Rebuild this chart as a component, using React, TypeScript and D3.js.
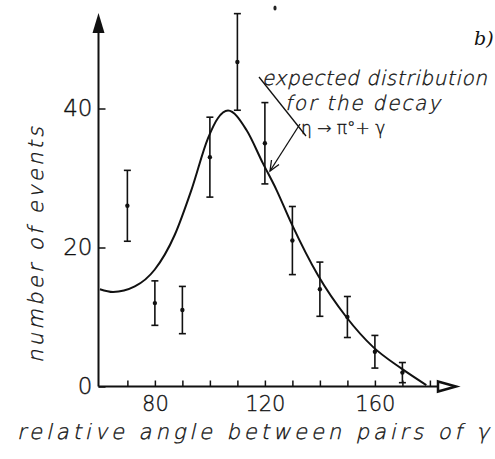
import React, { useRef, useEffect } from 'react';
import * as d3 from 'd3';

// measured points (angle in degrees, number of events, half length of error bar)
const angles = [70, 80, 90, 100, 110, 120, 130, 140, 150, 160, 170];
const events = [26, 12, 11, 33, 46.7, 35, 21, 14, 10, 5, 2];
const errors = [5.1, 3.2, 3.4, 5.75, 6.95, 5.85, 4.9, 3.9, 2.95, 2.35, 1.45];

// expected distribution for eta -> pi0 + gamma
const curveAngles = [60, 64.8, 72.7, 79.9, 87.2, 93.3, 99.3, 102.9, 106.6, 113.3, 119.3, 124.2, 129.6, 139.3, 149.6, 159.3, 169.6, 178.7];
const curveValues = [14.0, 13.6, 14.4, 16.8, 21.8, 28.3, 35.7, 38.6, 39.7, 36.9, 32.1, 28.3, 23.5, 16.0, 10.0, 5.7, 2.6, 0.2];

const xTicks = [70, 80, 90, 100, 110, 120, 130, 140, 150, 160, 170, 180];
const xLabels = [80, 120, 160];
const yTicks = [0, 20, 40];

const FONT = '"DejaVu Sans", sans-serif';
const INK = '#111';

const App = () => {
  const svgRef = useRef<SVGSVGElement>(null);
  const width = 495;
  const height = 459;

  useEffect(() => {
    const svg = d3.select(svgRef.current);
    svg.selectAll('*').remove();

    const x = d3.scaleLinear().domain([59.5, 190]).range([98.5, 457.4]);
    const y = d3.scaleLinear().domain([0, 54]).range([386.5, 11.2]);
    const x0 = x(59.5);
    const y0 = y(0);

    // thin lettering, slanted by hand so the light face is kept
    const slanted = (transform: string, size: number, txt: string, len?: number) => {
      const t = svg.append('text')
        .attr('transform', `${transform} skewX(-13)`)
        .style('font-family', FONT).style('font-size', `${size}px`).style('font-weight', 200)
        .attr('fill', INK).attr('stroke', INK).attr('stroke-width', 0.35)
        .text(txt);
      if (len) t.attr('textLength', len).attr('lengthAdjust', 'spacing');
      return t;
    };

    // y axis with filled arrow
    svg.append('line')
      .attr('x1', x0).attr('x2', x0)
      .attr('y1', y0).attr('y2', 28)
      .attr('stroke', INK).attr('stroke-width', 2);
    svg.append('path')
      .attr('d', `M${x0},13 L${x0 - 6},33 L${x0 + 6},33 Z`)
      .attr('fill', INK);

    // x axis with open arrow
    svg.append('line')
      .attr('x1', x0).attr('x2', 438)
      .attr('y1', y0).attr('y2', y0)
      .attr('stroke', INK).attr('stroke-width', 2);
    svg.append('path')
      .attr('d', `M438,${y0 - 5} L456,${y0} L438,${y0 + 5} Z`)
      .attr('fill', '#fff').attr('stroke', INK).attr('stroke-width', 2.5)
      .attr('stroke-linejoin', 'miter');

    const yAxis = d3.axisLeft(y).tickValues(yTicks).tickSizeInner(-7).tickSizeOuter(0).tickPadding(6);
    const yg = svg.append('g').attr('transform', `translate(${x0},0)`).call(yAxis);
    yg.select('.domain').remove();
    yg.selectAll('line').attr('stroke', INK).attr('stroke-width', 1.5);
    yg.selectAll('text')
      .attr('fill', INK).attr('stroke', INK).attr('stroke-width', 0.35)
      .style('font-family', FONT)
      .style('font-size', '23px')
      .style('font-weight', 200);

    const xAxis = d3.axisBottom(x).tickValues(xTicks).tickSizeInner(-6).tickSizeOuter(0).tickPadding(10)
      .tickFormat((d) => (xLabels.includes(d as number) ? String(d) : ''));
    const xg = svg.append('g').attr('transform', `translate(0,${y0})`).call(xAxis);
    xg.select('.domain').remove();
    xg.selectAll('line').attr('stroke', INK).attr('stroke-width', 1.5);
    xg.selectAll('text')
      .attr('fill', INK).attr('stroke', INK).attr('stroke-width', 0.35)
      .style('font-family', FONT)
      .style('font-size', '21px')
      .style('font-weight', 200);

    // expected curve
    const line = d3.line<number>()
      .x((d, i) => x(curveAngles[i]))
      .y((d) => y(d))
      .curve(d3.curveMonotoneX);
    svg.append('path')
      .attr('d', line(curveValues))
      .attr('fill', 'none')
      .attr('stroke', INK)
      .attr('stroke-width', 2);

    // error bars
    const pts = angles.map((a, i) => ({ a, v: events[i], e: errors[i] }));
    const eb = svg.append('g').attr('stroke', INK).attr('stroke-width', 1.6);
    pts.forEach((p) => {
      const cx = x(p.a);
      eb.append('line').attr('x1', cx).attr('x2', cx).attr('y1', y(p.v + p.e)).attr('y2', y(p.v - p.e));
      eb.append('line').attr('x1', cx - 3.5).attr('x2', cx + 3.5).attr('y1', y(p.v + p.e)).attr('y2', y(p.v + p.e));
      eb.append('line').attr('x1', cx - 3.5).attr('x2', cx + 3.5).attr('y1', y(p.v - p.e)).attr('y2', y(p.v - p.e));
    });
    svg.append('g')
      .selectAll('circle')
      .data(pts)
      .join('circle')
      .attr('cx', (d) => x(d.a))
      .attr('cy', (d) => y(d.v))
      .attr('r', 2.2)
      .attr('fill', INK);

    // axis titles
    slanted('translate(17,439)', 21, 'relative angle between pairs of γ', 472);
    slanted('translate(43,363) rotate(-90)', 21, 'number of events', 236);

    // annotation
    slanted('translate(262,85)', 20, 'expected distribution', 225);
    slanted('translate(285,110)', 20, 'for the decay', 155);
    svg.append('text')
      .attr('x', 301).attr('y', 134)
      .style('font-family', FONT).style('font-size', '17px').style('font-weight', 200)
      .attr('fill', INK).attr('stroke', INK).attr('stroke-width', 0.35)
      .text('η → π°+ γ');

    svg.append('line')
      .attr('x1', 259).attr('y1', 77).attr('x2', 306).attr('y2', 136)
      .attr('stroke', INK).attr('stroke-width', 1.3);
    svg.append('line')
      .attr('x1', 300).attr('y1', 124).attr('x2', 270).attr('y2', 171)
      .attr('stroke', INK).attr('stroke-width', 1.3);
    svg.append('path')
      .attr('d', 'M271.5,160 L270,171 L279,164.5')
      .attr('fill', 'none').attr('stroke', INK).attr('stroke-width', 1.3);

    svg.append('text')
      .attr('x', 474).attr('y', 45)
      .style('font-family', '"DejaVu Serif", serif').style('font-size', '19px').style('font-style', 'italic')
      .attr('fill', INK)
      .text('b)');

    // small speck at the top
    svg.append('ellipse')
      .attr('cx', 275).attr('cy', 8).attr('rx', 1.6).attr('ry', 2.6)
      .attr('fill', '#222');
  }, []);

  return (
    <div style={{ position: 'absolute', left: 0, top: 0 }}>
      <svg ref={svgRef} width={width} height={height} style={{ display: 'block', background: '#fff' }}></svg>
    </div>
  );
};

export default App;
